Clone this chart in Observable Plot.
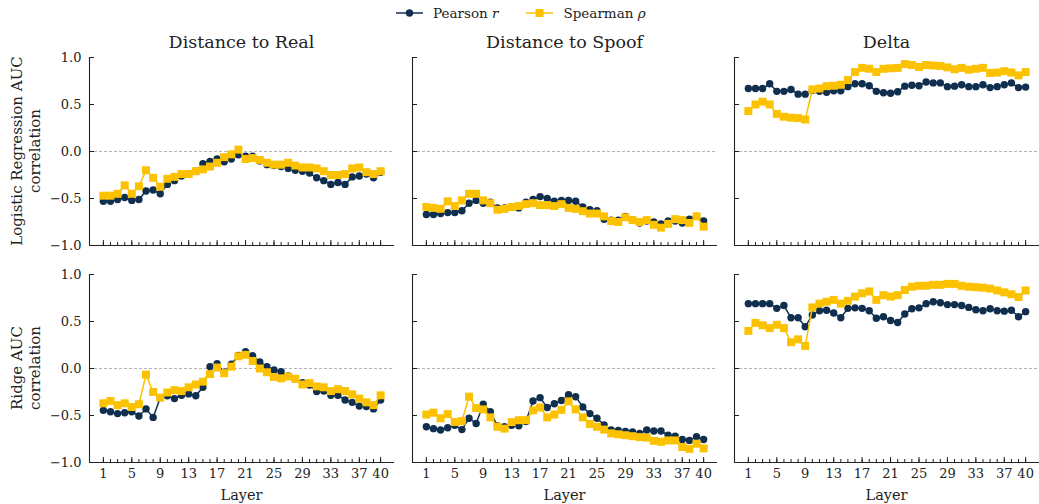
<!DOCTYPE html>
<html><head><meta charset="utf-8">
<script src="https://cdn.jsdelivr.net/npm/d3@7"></script>
<script src="https://cdn.jsdelivr.net/npm/@observablehq/plot@0.6"></script>
<style>
html,body{margin:0;padding:0;background:#fff;}
#fig{position:relative;width:1039px;height:504px;font-family:"DejaVu Serif",serif;color:#222;overflow:hidden;background:#fff;}
.abs{position:absolute;}
.title{font-size:17.5px;line-height:20px;transform:translateX(-50%);white-space:nowrap;}
.ylab{font-size:15px;line-height:18px;text-align:center;white-space:nowrap;transform:translate(-50%,-50%) rotate(-90deg);}
.xlab{font-size:14.5px;line-height:18px;transform:translateX(-50%);white-space:nowrap;}
#legend{display:flex;align-items:center;font-size:13.5px;line-height:18px;white-space:nowrap;}
#legend .item{display:flex;align-items:center;}
#legend svg{display:block;margin-right:10px;}
</style>
</head><body>
<div id="fig"></div>
<script>
// ---- data ----
const layers = [1,2,3,4,5,6,7,8,9,10,11,12,13,14,15,16,17,18,19,20,21,22,23,24,25,26,27,28,29,30,31,32,33,34,35,36,37,38,39,40];
const majorTicks = [1,5,9,13,17,21,25,29,33,37,40];
const yTicks = [-1,-0.5,0,0.5,1];
const columnTitles = ["Distance to Real","Distance to Spoof","Delta"];
const rowLabels = [["Logistic Regression AUC","correlation"],["Ridge AUC","correlation"]];
const seriesNames = ["Pearson", "Spearman"];
const seriesSymbols = ["r", "ρ"];
const xLabel = "Layer";

// Logistic regression row
const lrRealPearson = [-0.53,-0.53,-0.51,-0.49,-0.52,-0.51,-0.42,-0.41,-0.45,-0.35,-0.31,-0.26,-0.24,-0.21,-0.13,-0.105,-0.08,-0.11,-0.08,-0.035,-0.05,-0.05,-0.10,-0.14,-0.15,-0.16,-0.18,-0.20,-0.21,-0.23,-0.28,-0.31,-0.35,-0.33,-0.35,-0.27,-0.26,-0.24,-0.28,-0.22];
const lrRealSpearman = [-0.47,-0.47,-0.45,-0.36,-0.45,-0.37,-0.20,-0.28,-0.375,-0.29,-0.27,-0.24,-0.24,-0.21,-0.19,-0.16,-0.12,-0.06,-0.03,0.02,-0.08,-0.07,-0.09,-0.12,-0.14,-0.14,-0.12,-0.15,-0.17,-0.17,-0.18,-0.21,-0.25,-0.25,-0.24,-0.18,-0.17,-0.22,-0.24,-0.21];
const lrSpoofPearson = [-0.67,-0.67,-0.66,-0.65,-0.65,-0.63,-0.55,-0.52,-0.55,-0.54,-0.60,-0.60,-0.59,-0.60,-0.54,-0.51,-0.48,-0.50,-0.53,-0.52,-0.52,-0.53,-0.59,-0.62,-0.63,-0.72,-0.73,-0.73,-0.69,-0.73,-0.76,-0.74,-0.75,-0.77,-0.74,-0.74,-0.76,-0.72,-0.69,-0.74];
const lrSpoofSpearman = [-0.59,-0.60,-0.61,-0.53,-0.58,-0.52,-0.45,-0.45,-0.52,-0.55,-0.62,-0.61,-0.59,-0.58,-0.56,-0.55,-0.57,-0.57,-0.58,-0.56,-0.60,-0.61,-0.635,-0.66,-0.66,-0.69,-0.74,-0.75,-0.70,-0.73,-0.75,-0.73,-0.78,-0.81,-0.77,-0.72,-0.73,-0.76,-0.69,-0.80];
const lrDeltaPearson = [0.67,0.67,0.67,0.72,0.64,0.64,0.66,0.61,0.61,0.65,0.64,0.63,0.645,0.645,0.69,0.72,0.72,0.70,0.64,0.625,0.62,0.635,0.695,0.705,0.70,0.74,0.73,0.73,0.69,0.695,0.71,0.69,0.69,0.71,0.68,0.69,0.71,0.73,0.68,0.685];
const lrDeltaSpearman = [0.43,0.50,0.53,0.50,0.40,0.37,0.36,0.355,0.34,0.66,0.67,0.695,0.70,0.71,0.76,0.845,0.89,0.88,0.845,0.88,0.885,0.89,0.93,0.92,0.90,0.92,0.915,0.91,0.895,0.875,0.89,0.87,0.88,0.89,0.835,0.84,0.855,0.84,0.81,0.845];
// Ridge row
const ridgeRealPearson = [-0.445,-0.46,-0.48,-0.47,-0.46,-0.505,-0.43,-0.52,-0.31,-0.29,-0.32,-0.285,-0.27,-0.29,-0.20,0.02,0.05,-0.04,0.045,0.14,0.18,0.135,0.07,0.02,-0.015,-0.035,-0.08,-0.11,-0.15,-0.175,-0.245,-0.24,-0.285,-0.285,-0.335,-0.36,-0.40,-0.405,-0.43,-0.335];
const ridgeRealSpearman = [-0.37,-0.345,-0.39,-0.37,-0.41,-0.38,-0.065,-0.25,-0.31,-0.255,-0.23,-0.24,-0.20,-0.17,-0.14,-0.06,0.01,-0.05,0.02,0.13,0.145,0.08,0.0,-0.04,-0.09,-0.105,-0.085,-0.11,-0.17,-0.155,-0.19,-0.20,-0.24,-0.22,-0.24,-0.275,-0.32,-0.36,-0.39,-0.285];
const ridgeSpoofPearson = [-0.62,-0.64,-0.655,-0.63,-0.605,-0.65,-0.53,-0.585,-0.38,-0.46,-0.61,-0.62,-0.605,-0.61,-0.565,-0.345,-0.31,-0.415,-0.375,-0.34,-0.28,-0.30,-0.41,-0.48,-0.53,-0.60,-0.655,-0.66,-0.67,-0.675,-0.69,-0.655,-0.665,-0.665,-0.71,-0.72,-0.755,-0.765,-0.725,-0.755];
const ridgeSpoofSpearman = [-0.49,-0.47,-0.53,-0.485,-0.57,-0.56,-0.30,-0.42,-0.435,-0.52,-0.62,-0.64,-0.57,-0.55,-0.55,-0.445,-0.415,-0.52,-0.49,-0.44,-0.35,-0.435,-0.52,-0.59,-0.62,-0.65,-0.69,-0.70,-0.71,-0.72,-0.73,-0.735,-0.77,-0.78,-0.765,-0.765,-0.835,-0.855,-0.80,-0.85];
const ridgeDeltaPearson = [0.69,0.69,0.69,0.69,0.64,0.67,0.54,0.54,0.445,0.57,0.615,0.62,0.59,0.54,0.64,0.645,0.64,0.615,0.535,0.55,0.51,0.49,0.58,0.635,0.645,0.69,0.71,0.70,0.68,0.68,0.67,0.65,0.625,0.615,0.635,0.615,0.61,0.62,0.55,0.605];
const ridgeDeltaSpearman = [0.40,0.485,0.46,0.43,0.465,0.43,0.28,0.31,0.24,0.65,0.69,0.71,0.73,0.69,0.72,0.765,0.80,0.82,0.73,0.78,0.765,0.78,0.835,0.87,0.88,0.88,0.89,0.89,0.90,0.90,0.88,0.87,0.865,0.86,0.85,0.83,0.81,0.79,0.76,0.83];

const panels = [
  [[lrRealPearson, lrRealSpearman],[lrSpoofPearson, lrSpoofSpearman],[lrDeltaPearson, lrDeltaSpearman]],
  [[ridgeRealPearson, ridgeRealSpearman],[ridgeSpoofPearson, ridgeSpoofSpearman],[ridgeDeltaPearson, ridgeDeltaSpearman]]
];

// ---- style / layout ----
const NAVY = "#102f4f", GOLD = "#fcc200", AXIS = "#222";
const colLeft = [89, 412, 734];
const W = 305;
const rowTop = [57, 274];
const H = 188;
const xDomain = [-0.95, 41.95];
const fmt = d => d.toFixed(1).replace("-", "\u2212");

const fig = document.getElementById("fig");

function makePanel(r, c) {
  const [pear, spear] = panels[r][c];
  const rows = layers.map((l, i) => ({layer: l, pearson: pear[i], spearman: spear[i]}));
  const ml = c === 0 ? 60 : 4, mr = 4, mt = 8, mb = r === 1 ? 26 : 4;
  const marks = [
    Plot.ruleY([0], {stroke: "#a0a0a0", strokeWidth: 0.8, strokeDasharray: "3,2"}),
    Plot.line(rows, {x: "layer", y: "pearson", stroke: NAVY, strokeWidth: 1.5}),
    Plot.dot(rows, {x: "layer", y: "pearson", r: 3.7, fill: NAVY, symbol: "circle"}),
    Plot.line(rows, {x: "layer", y: "spearman", stroke: GOLD, strokeWidth: 1.5}),
    Plot.dot(rows, {x: "layer", y: "spearman", r: 4.5, fill: GOLD, symbol: "square"}),
    Plot.ruleX(layers, {x: d => d, insetTop: H - 3, stroke: AXIS}),
    Plot.ruleX(majorTicks, {x: d => d, insetTop: H - 5, stroke: AXIS}),
    Plot.ruleY(yTicks, {y: d => d, insetRight: W - 5, stroke: AXIS}),
    Plot.ruleY([-1], {stroke: AXIS, strokeWidth: 1.1}),
    Plot.ruleX([xDomain[0]], {stroke: AXIS, strokeWidth: 1.1})
  ];
  if (c === 0) marks.push(Plot.axisY({ticks: yTicks, tickSize: 0, tickPadding: 8, tickFormat: fmt, label: null, fontSize: 13}));
  if (r === 1) marks.push(Plot.axisX({ticks: majorTicks, tickSize: 0, tickPadding: 6, tickFormat: d => String(d), label: null, fontSize: 13}));
  const w = ml + W + mr;
  const svg = Plot.plot({
    width: w, height: mt + H + mb,
    marginLeft: ml, marginRight: mr, marginTop: mt, marginBottom: mb,
    x: {domain: xDomain, axis: null},
    y: {domain: [-1, 1], axis: null},
    style: {fontFamily: "DejaVu Serif", fontSize: "13px", color: AXIS, background: "transparent", overflow: "visible", maxWidth: "none"},
    marks
  });
  const holder = document.createElement("div");
  holder.className = "abs";
  holder.style.left = (colLeft[c] - ml) + "px";
  holder.style.top = (rowTop[r] - mt) + "px";
  holder.style.width = w + "px";
  holder.appendChild(svg);
  fig.appendChild(holder);
}

for (let r = 0; r < 2; r++) for (let c = 0; c < 3; c++) makePanel(r, c);

// titles
columnTitles.forEach((t, c) => {
  const d = document.createElement("div");
  d.className = "abs title";
  d.textContent = t;
  d.style.left = (colLeft[c] + W / 2) + "px";
  d.style.top = "32px";
  fig.appendChild(d);
});
// x labels
columnTitles.forEach((t, c) => {
  const d = document.createElement("div");
  d.className = "abs xlab";
  d.textContent = xLabel;
  d.style.left = (colLeft[c] + W / 2) + "px";
  d.style.top = "486px";
  fig.appendChild(d);
});
// row labels
rowLabels.forEach((lines, r) => {
  const d = document.createElement("div");
  d.className = "abs ylab";
  d.innerHTML = lines.join("<br>");
  d.style.left = "26px";
  d.style.top = (rowTop[r] + H / 2) + "px";
  fig.appendChild(d);
});
// legend
const legend = document.createElement("div");
legend.id = "legend";
legend.className = "abs";
legend.style.left = "396px";
legend.style.top = "4px";
const NS = "http://www.w3.org/2000/svg";
seriesNames.forEach((name, i) => {
  const item = document.createElement("div");
  item.className = "item";
  if (i > 0) item.style.marginLeft = "28px";
  const s = document.createElementNS(NS, "svg");
  s.setAttribute("width", 27); s.setAttribute("height", 12);
  const ln = document.createElementNS(NS, "line");
  ln.setAttribute("x1", 0); ln.setAttribute("x2", 27); ln.setAttribute("y1", 6); ln.setAttribute("y2", 6);
  ln.setAttribute("stroke", i === 0 ? NAVY : GOLD); ln.setAttribute("stroke-width", 1.5);
  s.appendChild(ln);
  if (i === 0) {
    const m = document.createElementNS(NS, "circle");
    m.setAttribute("cx", 13.5); m.setAttribute("cy", 6); m.setAttribute("r", 3.7); m.setAttribute("fill", NAVY);
    s.appendChild(m);
  } else {
    const m = document.createElementNS(NS, "rect");
    m.setAttribute("x", 9.5); m.setAttribute("y", 2); m.setAttribute("width", 8); m.setAttribute("height", 8); m.setAttribute("fill", GOLD);
    s.appendChild(m);
  }
  item.appendChild(s);
  const t = document.createElement("span");
  t.innerHTML = name + " <i>" + seriesSymbols[i] + "</i>";
  item.appendChild(t);
  legend.appendChild(item);
});
fig.appendChild(legend);
</script>
</body></html>
